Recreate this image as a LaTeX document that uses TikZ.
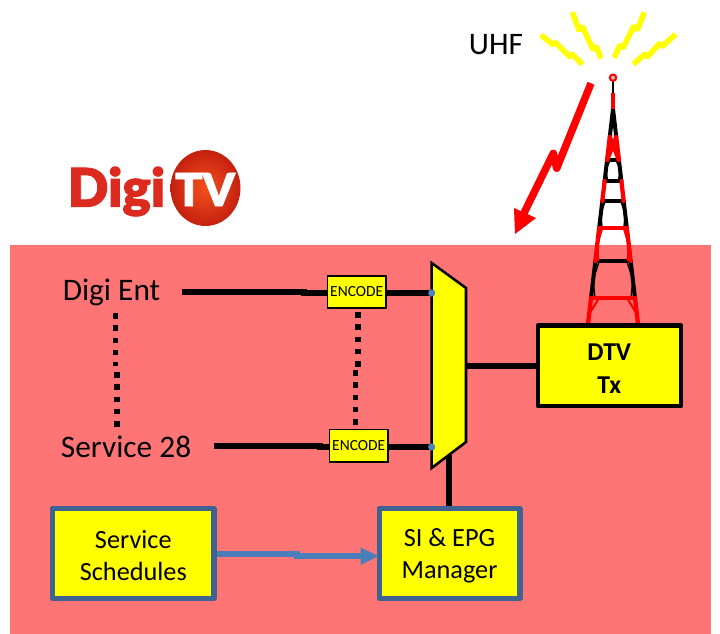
\documentclass[tikz,border=0pt]{standalone}
\usepackage{fontspec}
\setmainfont{Carlito}
\newfontfamily\logofont[BoldFeatures={FakeBold=1.6}]{Lato Bold}
\usetikzlibrary{arrows.meta}
\definecolor{pinkbg}{HTML}{FF7575}
\definecolor{boxblue}{HTML}{3F6391}
\definecolor{linkblue}{HTML}{4A7EBB}
\definecolor{dotblue}{HTML}{4F81BD}
\definecolor{logored}{HTML}{DD2A1E}
\definecolor{ylw}{HTML}{FFFF00}
\definecolor{ballin}{HTML}{F4501E}
\definecolor{ballout}{HTML}{C4200F}
\newcommand{\dropA}[1]{\raisebox{-1.5pt}[\height][\depth]{#1}}
\newcommand{\dropB}[1]{\raisebox{-2.25pt}[\height][\depth]{#1}}
\tikzset{
  lbl/.style={inner sep=0pt,font=\fontsize{23.5}{28}\selectfont,text=black},
  encbox/.style={draw=black,fill=ylw,line width=1.3pt,minimum width=44pt,minimum height=24.5pt,inner sep=0pt,font=\fontsize{11.6}{13}\selectfont},
  bluebox/.style={draw=boxblue,fill=ylw,line width=3.8pt,line join=round,align=center,inner sep=0pt,font=\fontsize{19.7}{24}\selectfont},
  txbox/.style={draw=black,fill=ylw,line width=3.2pt,line join=round,align=center,inner sep=0pt,font=\fontsize{19.3}{25}\selectfont\bfseries},
  wire/.style={draw=black,line width=4.3pt},
  dots/.style={draw=black,line width=4.2pt,dash pattern=on 4.2pt off 4.95pt},
  bolt/.style={draw=ylw,line width=4.2pt,line join=bevel},
  blk/.style={draw=black,line width=3pt,line cap=round},
  rd/.style={draw=red,line width=3.2pt,line cap=round},
  thinb/.style={draw=black,line width=1pt},
  thinr/.style={draw=red,line width=1.6pt},
}
\begin{document}
\begin{tikzpicture}[x=0.75pt,y=-0.75pt]
\useasboundingbox (0,0) rectangle (720,634);
\fill[pinkbg] (10,245) rectangle (711,634);

% logo
\shade[inner color=ballin,outer color=ballout,shading=radial] (205.5,188) ellipse (35 and 38);
\node[inner sep=0pt,text=logored,font=\logofont\fontsize{40}{44}\selectfont\bfseries] (logodigi) at (116.5,191.5) {Digi};
\node[inner sep=0pt,text=white,font=\logofont\fontsize{34}{38}\selectfont\bfseries] (logotv) at (205,189.5) {TV};

% tower
\def\lx#1{(613-(#1-109)*0.1163)}
\def\rx#1{(613+(#1-109)*0.1163)}
\coordinate (top) at (613,109);
% black sections
\draw[blk] (613,109) -- ({\lx{137}},137) (613,109) -- ({\rx{137}},137);
\draw[blk] ({\lx{160}},160) -- ({\lx{181}},181) ({\rx{160}},160) -- ({\rx{181}},181);
\draw[blk] ({\lx{201}},201) -- ({\lx{228}},228) ({\rx{201}},201) -- ({\rx{228}},228);
\draw[blk] ({\lx{261}},261) -- ({\lx{298}},298) ({\rx{261}},261) -- ({\rx{298}},298);
\draw[blk] ({\lx{160}},160) -- ({\rx{160}},160) ({\lx{181}},181) -- ({\rx{181}},181) ({\lx{201}},201) -- ({\rx{201}},201) ({\lx{261}},261) -- ({\rx{261}},261);
\draw[thinb] ({\lx{160}+3},160) -- ({\lx{170}},170) -- ({\lx{181}+3},181) ({\rx{160}-3},160) -- ({\rx{170}},170) -- ({\rx{181}-3},181);
\draw[thinb] ({\lx{201}+3},201) -- ({\lx{214}},214) -- ({\lx{228}+3},228) ({\rx{201}-3},201) -- ({\rx{214}},214) -- ({\rx{228}-3},228);
\draw[thinb] ({\lx{261}+4},261) -- ({\lx{280}},280) -- ({\lx{298}+4},298) ({\rx{261}-4},261) -- ({\rx{280}},280) -- ({\rx{298}-4},298);
% red sections
\draw[rd] ({\lx{137}},137) -- ({\lx{160}},160) ({\rx{137}},137) -- ({\rx{160}},160);
\draw[rd] ({\lx{137}},137) -- ({\rx{160}},160) ({\rx{137}},137) -- ({\lx{160}},160);
\draw[rd] ({\lx{181}},181) -- ({\lx{201}},201) ({\rx{181}},181) -- ({\rx{201}},201);
\draw[rd] ({\lx{228}},228) -- ({\lx{261}},261) ({\rx{228}},228) -- ({\rx{261}},261);
\draw[rd] ({\lx{298}},298) -- ({\lx{324}},324) ({\rx{298}},298) -- ({\rx{324}},324);
\draw[rd] ({\lx{228}},228) -- ({\rx{228}},228) ({\lx{298}},298) -- ({\rx{298}},298);
\draw[thinr] ({\lx{228}+3},228) -- ({\lx{245}},245) -- ({\lx{261}+3},261) ({\rx{228}-3},228) -- ({\rx{245}},245) -- ({\rx{261}-3},261);
\draw[thinr] ({\lx{298}+8},298) -- ({\lx{314}},314) ({\rx{298}-8},298) -- ({\rx{314}},314);
% mast
\draw[draw=black,line width=1.8pt] (613,78) -- (613,94);
\draw[draw=red,line width=3.2pt] (613,93) -- (613,109);
\draw[draw=red,fill=lightgray,line width=1.5pt] (613,77.7) circle (3.2);

% bolts
\draw[bolt] (541,35) -- (553.3,45) -- (555,42) -- (570,57) -- (572,54) -- (582.3,64.3);
\draw[bolt] (572.3,12.3) -- (579.3,30.7) -- (582,26) -- (593.3,50) -- (596,46) -- (601,58.3);
\draw[bolt] (644.3,12.3) -- (637.3,30) -- (634,26) -- (622.7,48.3) -- (620,45) -- (614.3,57.7);
\draw[bolt] (675.7,34.3) -- (661.7,46.7) -- (660,43) -- (647.3,57) -- (645,54) -- (633.3,64.3);

% red arrow
\fill[red] (515,234) -- (514,208) -- (536,218) -- cycle;
\draw[draw=red,line width=5.6pt,line join=round] (591,83.3) -- (556.7,168.3) -- (553.3,153.3) -- (524,213);

% mux
\coordinate (muxa) at (431.7,263);
\coordinate (muxb) at (466,288);
\coordinate (muxc) at (466,442);
\coordinate (muxd) at (431.7,468);
\coordinate (muxin1) at (431.7,293);
\coordinate (muxin2) at (431.7,447);
\coordinate (muxout) at (466,365.7);
\coordinate (muxlow) at (449.3,455);

% nodes
\node[lbl] (digi) at (111.5,292) {Digi Ent};
\node[lbl] (svc) at (126,447) {Service 28};
\node[lbl] (uhf) at (496,45) {UHF};
\node[encbox] (enc1) at (356.7,292) {ENCODE};
\node[encbox] (enc2) at (358.7,445.7) {ENCODE};
\node[txbox,minimum width=107.5pt,minimum height=60.3pt] (tx) at (609.3,365.8) {\dropB{DTV}\\\dropB{Tx}};
\node[bluebox,minimum width=121pt,minimum height=68pt] (sched) at (133.3,553.4) {\dropA{Service}\\\dropA{Schedules}};
\node[bluebox,minimum width=105.7pt,minimum height=68pt] (si) at (449.5,553.4) {\dropA{SI \& EPG}\\\dropA{Manager}};

% connectors
\coordinate (d1) at (181.5,291.7);
\coordinate (d2) at (304,291.7);
\coordinate (d3) at (304,293);
\coordinate (s1) at (214,445.7);
\coordinate (s2) at (320,445.7);
\coordinate (s3) at (320,447);
\draw[wire] (d1) -- (d2) -- (d3) -- (enc1.west |- d3);
\draw[wire] (s1) -- (s2) -- (s3) -- (enc2.west |- s3);
\draw[wire] (enc1.east |- muxin1) -- (muxin1);
\draw[wire] (enc2.east |- muxin2) -- (muxin2);
\draw[wire] (muxlow) -- (muxlow |- si.north);
\draw[wire] (muxout) -- (tx.west |- muxout);
% left dots
\coordinate (la) at (115.3,313.2);
\coordinate (lb) at (115.3,366);
\coordinate (lc) at (116.7,372.2);
\coordinate (ld) at (116.7,427);
\draw[dots] (la) -- (lb) (lc) -- (ld);
\coordinate (ca) at (358,312.2);
\coordinate (cb) at (358,367);
\coordinate (cc) at (355.5,370.2);
\coordinate (cd) at (355.5,425);
\draw[dots] (ca) -- (cb) (cc) -- (cd);
% blue arrow
\coordinate (b1) at (214,553.7);
\coordinate (b2) at (297,553.7);
\coordinate (b3) at (297,556);
\draw[draw=linkblue,line width=4.4pt] (sched.east |- b1) -- (b2) -- (b3) -- (362,556);
\fill[linkblue] (378.5,556) -- (360.5,547.5) -- (360.5,565) -- cycle;

% mux shape on top
\draw[draw=black,fill=ylw,line width=1.9pt,line join=miter] (muxa) -- (muxb) -- (muxc) -- (muxd) -- cycle;
\fill[dotblue] (muxin1) circle (3.6);
\fill[dotblue] (muxin2) circle (3.6);
\end{tikzpicture}
\end{document}
